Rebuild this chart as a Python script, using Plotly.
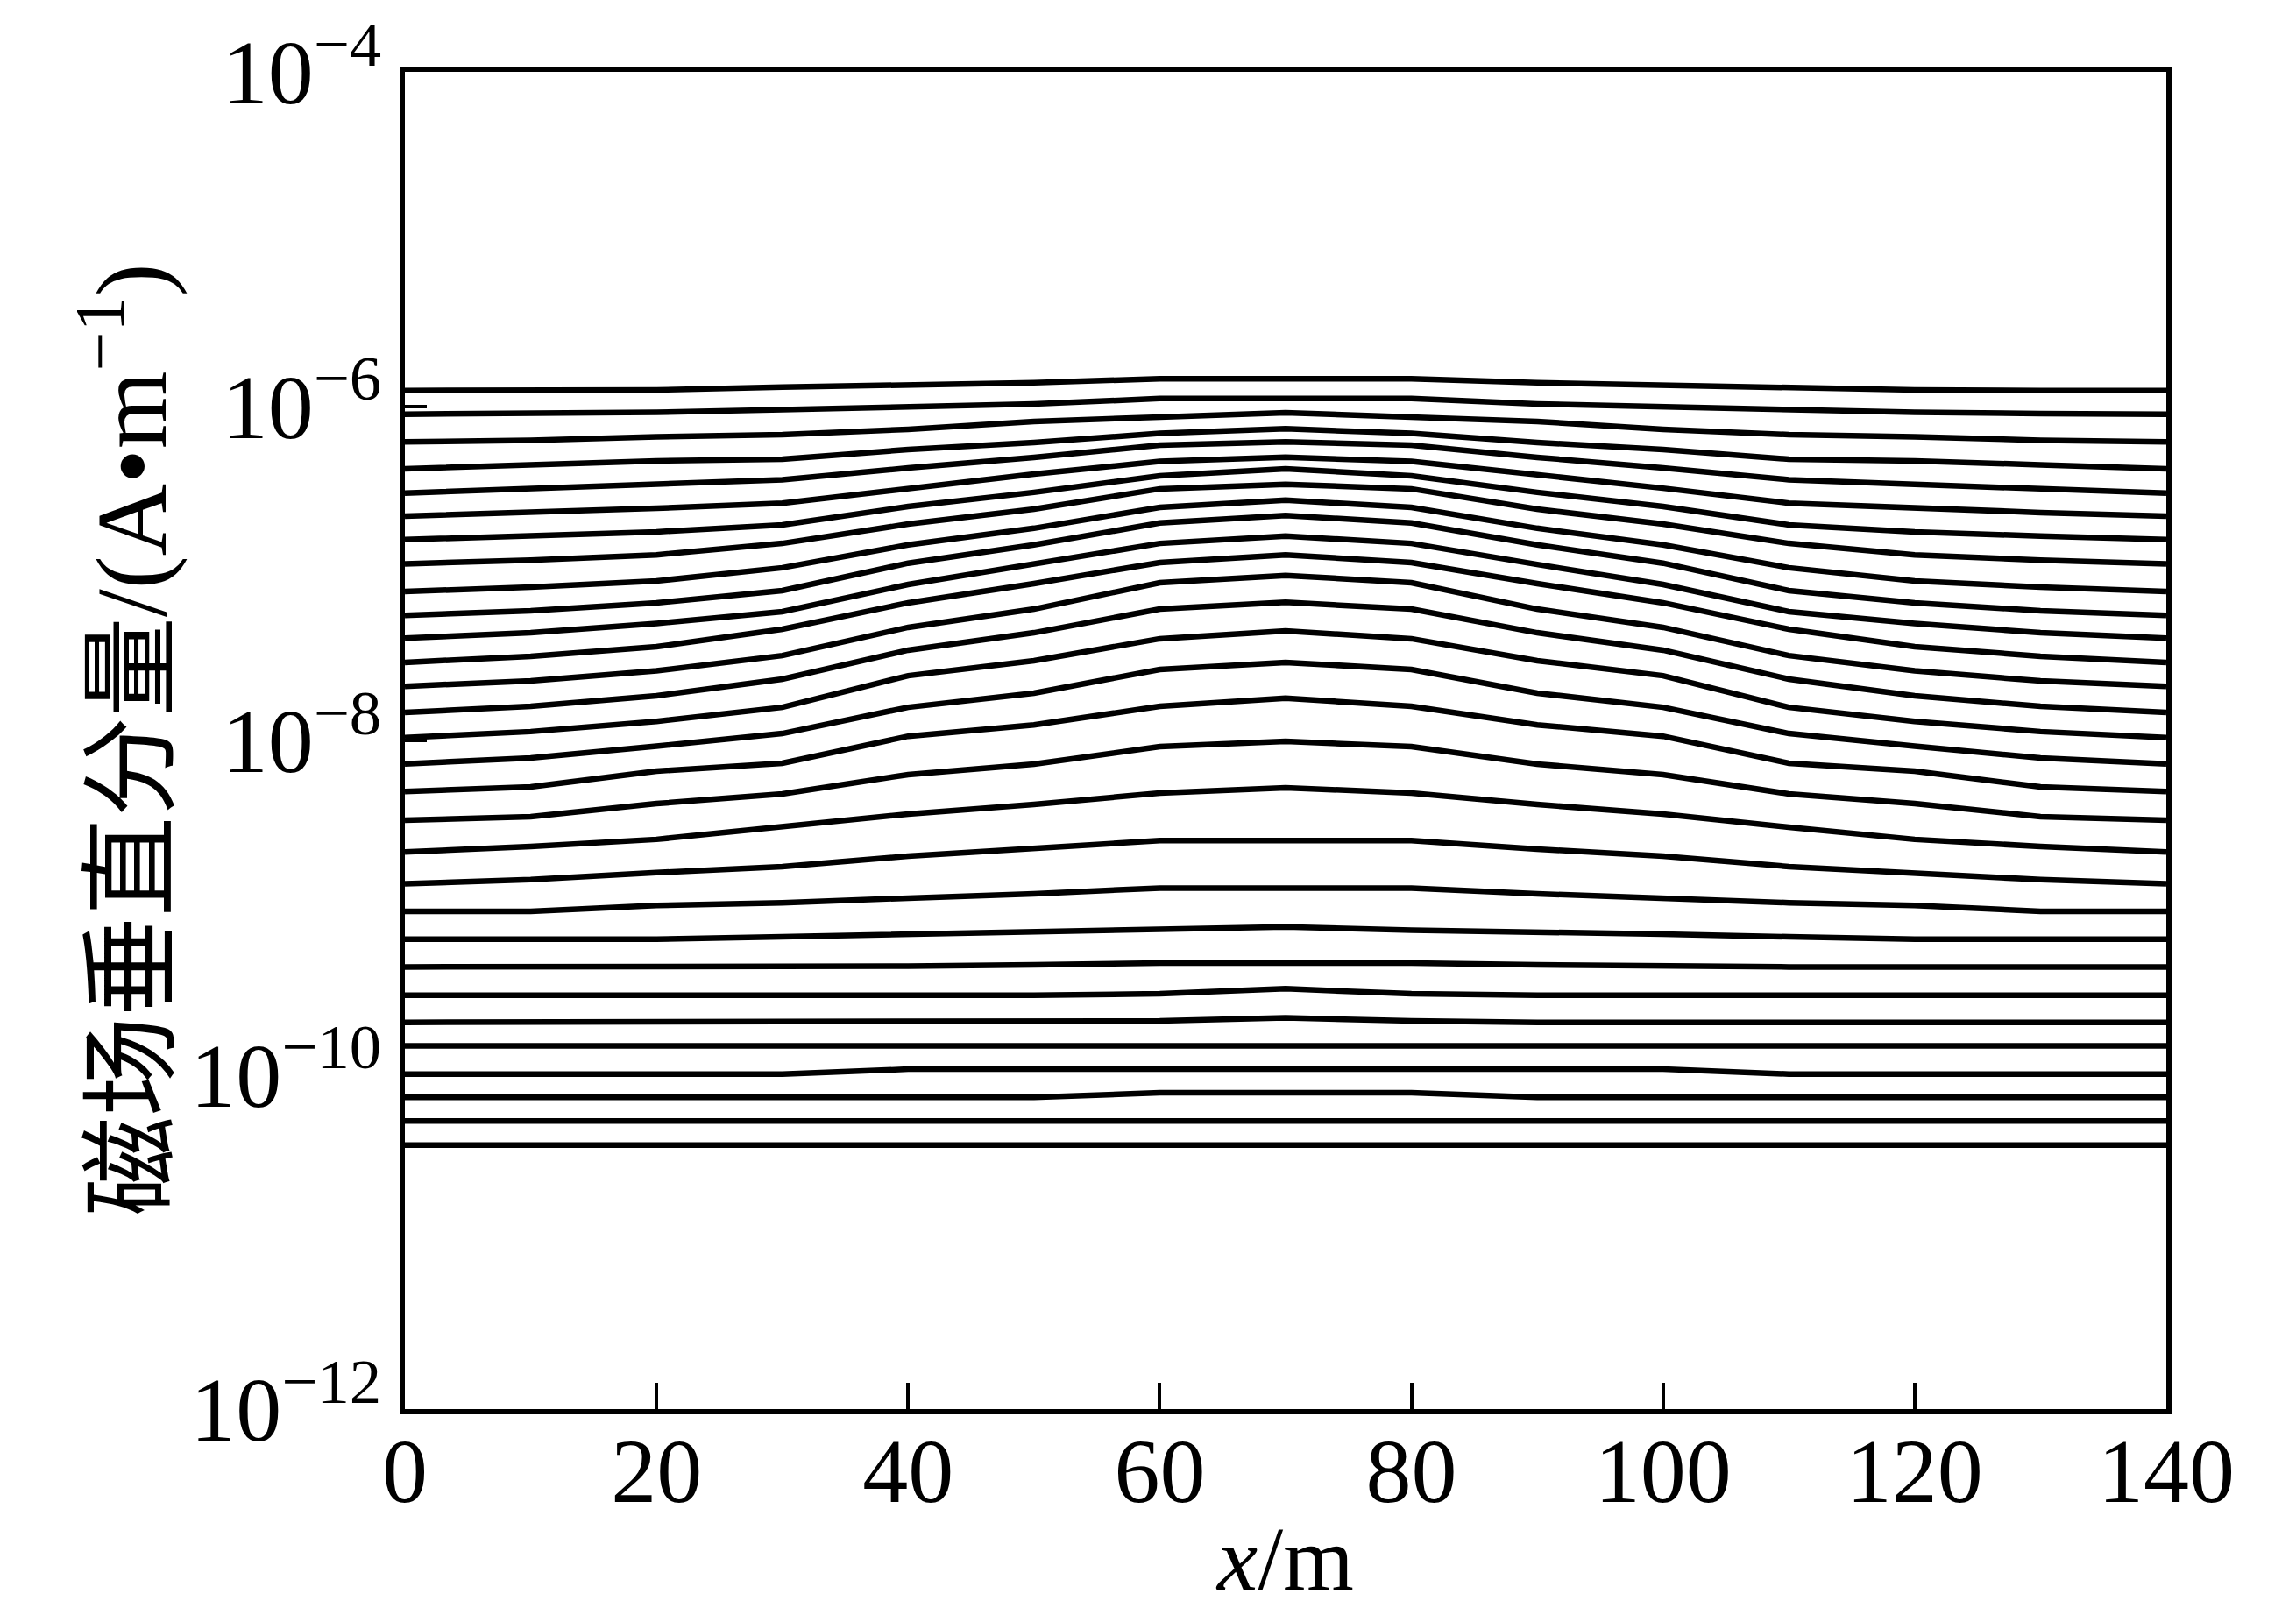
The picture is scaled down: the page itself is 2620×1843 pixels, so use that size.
import plotly.graph_objects as go

# Horizontal position along the profile (m)
x_m = [0, 10, 20, 30, 40, 50, 60, 70, 80, 90, 100, 110, 120, 130, 140]

# Vertical magnetic field component (A/m), one curve per list
hz_01 = [1.24e-6, 1.24e-6, 1.25e-6, 1.30e-6, 1.33e-6, 1.38e-6, 1.46e-6, 1.47e-6, 1.46e-6, 1.38e-6, 1.33e-6, 1.30e-6, 1.25e-6, 1.24e-6, 1.24e-6]
hz_02 = [8.95e-7, 9.03e-7, 9.19e-7, 9.53e-7, 9.88e-7, 1.03e-6, 1.11e-6, 1.12e-6, 1.11e-6, 1.03e-6, 9.88e-7, 9.53e-7, 9.19e-7, 9.03e-7, 8.95e-7]
hz_03 = [6.11e-7, 6.25e-7, 6.55e-7, 6.76e-7, 7.26e-7, 8.10e-7, 8.60e-7, 9.14e-7, 8.60e-7, 8.10e-7, 7.26e-7, 6.76e-7, 6.55e-7, 6.25e-7, 6.11e-7]
hz_04 = [4.22e-7, 4.46e-7, 4.70e-7, 4.82e-7, 5.50e-7, 6.06e-7, 6.88e-7, 7.32e-7, 6.88e-7, 6.06e-7, 5.50e-7, 4.82e-7, 4.70e-7, 4.46e-7, 4.22e-7]
hz_05 = [3.02e-7, 3.20e-7, 3.40e-7, 3.63e-7, 4.27e-7, 4.94e-7, 5.84e-7, 6.11e-7, 5.84e-7, 4.94e-7, 4.27e-7, 3.63e-7, 3.40e-7, 3.20e-7, 3.02e-7]
hz_06 = [2.20e-7, 2.31e-7, 2.45e-7, 2.63e-7, 3.23e-7, 3.92e-7, 4.67e-7, 4.95e-7, 4.67e-7, 3.92e-7, 3.23e-7, 2.63e-7, 2.45e-7, 2.31e-7, 2.20e-7]
hz_07 = [1.59e-7, 1.67e-7, 1.77e-7, 1.95e-7, 2.51e-7, 3.05e-7, 3.83e-7, 4.22e-7, 3.83e-7, 3.05e-7, 2.51e-7, 1.95e-7, 1.77e-7, 1.67e-7, 1.59e-7]
hz_08 = [1.14e-7, 1.20e-7, 1.29e-7, 1.51e-7, 1.97e-7, 2.42e-7, 3.20e-7, 3.41e-7, 3.20e-7, 2.42e-7, 1.97e-7, 1.51e-7, 1.29e-7, 1.20e-7, 1.14e-7]
hz_09 = [7.78e-8, 8.27e-8, 9.00e-8, 1.08e-7, 1.48e-7, 1.86e-7, 2.48e-7, 2.74e-7, 2.48e-7, 1.86e-7, 1.48e-7, 1.08e-7, 9.00e-8, 8.27e-8, 7.78e-8]
hz_10 = [5.60e-8, 5.97e-8, 6.66e-8, 7.88e-8, 1.15e-7, 1.48e-7, 2.00e-7, 2.22e-7, 2.00e-7, 1.48e-7, 1.15e-7, 7.88e-8, 6.66e-8, 5.97e-8, 5.60e-8]
hz_11 = [4.09e-8, 4.41e-8, 5.01e-8, 5.90e-8, 8.57e-8, 1.13e-7, 1.51e-7, 1.67e-7, 1.51e-7, 1.13e-7, 8.57e-8, 5.90e-8, 5.01e-8, 4.41e-8, 4.09e-8]
hz_12 = [2.93e-8, 3.19e-8, 3.64e-8, 4.63e-8, 6.66e-8, 8.68e-8, 1.16e-7, 1.29e-7, 1.16e-7, 8.68e-8, 6.66e-8, 4.63e-8, 3.64e-8, 3.19e-8, 2.93e-8]
hz_13 = [2.11e-8, 2.27e-8, 2.61e-8, 3.22e-8, 4.75e-8, 6.11e-8, 8.78e-8, 9.71e-8, 8.78e-8, 6.11e-8, 4.75e-8, 3.22e-8, 2.61e-8, 2.27e-8, 2.11e-8]
hz_14 = [1.47e-8, 1.60e-8, 1.85e-8, 2.33e-8, 3.47e-8, 4.41e-8, 6.11e-8, 6.71e-8, 6.11e-8, 4.41e-8, 3.47e-8, 2.33e-8, 1.85e-8, 1.60e-8, 1.47e-8]
hz_15 = [1.04e-8, 1.13e-8, 1.30e-8, 1.58e-8, 2.44e-8, 3.00e-8, 4.06e-8, 4.52e-8, 4.06e-8, 3.00e-8, 2.44e-8, 1.58e-8, 1.30e-8, 1.13e-8, 1.04e-8]
hz_16 = [7.24e-9, 7.86e-9, 9.25e-9, 1.10e-8, 1.58e-8, 1.92e-8, 2.66e-8, 2.93e-8, 2.66e-8, 1.92e-8, 1.58e-8, 1.10e-8, 9.25e-9, 7.86e-9, 7.24e-9]
hz_17 = [4.95e-9, 5.27e-9, 6.55e-9, 7.31e-9, 1.06e-8, 1.24e-8, 1.60e-8, 1.79e-8, 1.60e-8, 1.24e-8, 1.06e-8, 7.31e-9, 6.55e-9, 5.27e-9, 4.95e-9]
hz_18 = [3.33e-9, 3.50e-9, 4.19e-9, 4.79e-9, 6.25e-9, 7.22e-9, 9.19e-9, 9.88e-9, 9.19e-9, 7.22e-9, 6.25e-9, 4.79e-9, 4.19e-9, 3.50e-9, 3.33e-9]
hz_19 = [2.15e-9, 2.32e-9, 2.56e-9, 3.03e-9, 3.63e-9, 4.14e-9, 4.85e-9, 5.21e-9, 4.85e-9, 4.14e-9, 3.63e-9, 3.03e-9, 2.56e-9, 2.32e-9, 2.15e-9]
hz_20 = [1.39e-9, 1.47e-9, 1.62e-9, 1.76e-9, 2.03e-9, 2.24e-9, 2.52e-9, 2.52e-9, 2.52e-9, 2.24e-9, 2.03e-9, 1.76e-9, 1.62e-9, 1.47e-9, 1.39e-9]
hz_21 = [9.50e-10, 9.50e-10, 1.03e-9, 1.07e-9, 1.14e-9, 1.21e-9, 1.31e-9, 1.31e-9, 1.31e-9, 1.21e-9, 1.14e-9, 1.07e-9, 1.03e-9, 9.50e-10, 9.50e-10]
hz_22 = [6.48e-10, 6.48e-10, 6.48e-10, 6.69e-10, 6.94e-10, 7.20e-10, 7.33e-10, 7.67e-10, 7.33e-10, 7.20e-10, 6.94e-10, 6.69e-10, 6.48e-10, 6.48e-10, 6.48e-10]
hz_23 = [4.42e-10, 4.42e-10, 4.42e-10, 4.42e-10, 4.47e-10, 4.55e-10, 4.66e-10, 4.66e-10, 4.66e-10, 4.55e-10, 4.47e-10, 4.42e-10, 4.42e-10, 4.42e-10, 4.42e-10]
hz_24 = [2.99e-10, 2.99e-10, 2.99e-10, 2.99e-10, 2.99e-10, 2.99e-10, 3.05e-10, 3.27e-10, 3.05e-10, 2.99e-10, 2.99e-10, 2.99e-10, 2.99e-10, 2.99e-10, 2.99e-10]
hz_25 = [2.06e-10, 2.06e-10, 2.06e-10, 2.06e-10, 2.06e-10, 2.06e-10, 2.10e-10, 2.19e-10, 2.10e-10, 2.06e-10, 2.06e-10, 2.06e-10, 2.06e-10, 2.06e-10, 2.06e-10]
hz_26 = [1.49e-10, 1.49e-10, 1.49e-10, 1.49e-10, 1.49e-10, 1.49e-10, 1.49e-10, 1.49e-10, 1.49e-10, 1.49e-10, 1.49e-10, 1.49e-10, 1.49e-10, 1.49e-10, 1.49e-10]
hz_27 = [1.01e-10, 1.01e-10, 1.01e-10, 1.01e-10, 1.08e-10, 1.08e-10, 1.08e-10, 1.08e-10, 1.08e-10, 1.08e-10, 1.08e-10, 1.01e-10, 1.01e-10, 1.01e-10, 1.01e-10]
hz_28 = [7.32e-11, 7.32e-11, 7.32e-11, 7.32e-11, 7.32e-11, 7.32e-11, 7.81e-11, 7.81e-11, 7.81e-11, 7.32e-11, 7.32e-11, 7.32e-11, 7.32e-11, 7.32e-11, 7.32e-11]
hz_29 = [5.29e-11, 5.29e-11, 5.29e-11, 5.29e-11, 5.29e-11, 5.29e-11, 5.29e-11, 5.29e-11, 5.29e-11, 5.29e-11, 5.29e-11, 5.29e-11, 5.29e-11, 5.29e-11, 5.29e-11]
hz_30 = [3.80e-11, 3.80e-11, 3.80e-11, 3.80e-11, 3.80e-11, 3.80e-11, 3.80e-11, 3.80e-11, 3.80e-11, 3.80e-11, 3.80e-11, 3.80e-11, 3.80e-11, 3.80e-11, 3.80e-11]

curves = [hz_01, hz_02, hz_03, hz_04, hz_05, hz_06, hz_07, hz_08, hz_09, hz_10,
          hz_11, hz_12, hz_13, hz_14, hz_15, hz_16, hz_17, hz_18, hz_19, hz_20,
          hz_21, hz_22, hz_23, hz_24, hz_25, hz_26, hz_27, hz_28, hz_29, hz_30]

x_tickvals = [0, 20, 40, 60, 80, 100, 120, 140]
y_tickvals = [1e-12, 1e-10, 1e-8, 1e-6, 1e-4]
y_ticktext = ["10<sup>−12</sup>", "10<sup>−10</sup>", "10<sup>−8</sup>", "10<sup>−6</sup>", "10<sup>−4</sup>"]

x_title = "<i>x</i>/m"
y_title = "磁场垂直分量/(A•m<sup>−1</sup>)"

FONT = "Liberation Serif, Times New Roman, Noto Sans CJK SC, serif"

fig = go.Figure()
for c in curves:
    fig.add_trace(go.Scatter(x=x_m, y=c, mode="lines",
                             line=dict(color="black", width=6.5),
                             showlegend=False, hoverinfo="skip"))

# The page body adds an 8 px offset, so the figure is sized to fit the window.
fig.update_layout(
    template="none",
    width=2612, height=1835,
    margin=dict(l=454, r=148, t=74, b=235, autoexpand=False),
    plot_bgcolor="white", paper_bgcolor="white",
    font=dict(family=FONT, size=104, color="black"),
    showlegend=False,
)

fig.update_xaxes(
    range=[0, 140], tickvals=x_tickvals,
    ticks="inside", ticklen=30, tickwidth=4, tickcolor="black",
    showline=True, linewidth=6, linecolor="black", mirror=True,
    showgrid=False, zeroline=False, automargin=False,
    tickfont=dict(family=FONT, size=104, color="black"),
    ticklabelstandoff=-25,
    title=dict(text=x_title, font=dict(family=FONT, size=104, color="black"), standoff=8),
)

fig.update_yaxes(
    type="log", range=[-12, -4],
    tickvals=y_tickvals, ticktext=y_ticktext,
    ticks="inside", ticklen=25, tickwidth=4, tickcolor="black",
    showline=True, linewidth=6, linecolor="black", mirror=True,
    showgrid=False, zeroline=False, automargin=False,
    tickfont=dict(family=FONT, size=104, color="black"),
    ticklabelstandoff=0,
)

fig.add_annotation(
    text=y_title, textangle=-90,
    xref="paper", yref="paper", x=0, y=0.5,
    xanchor="center", yanchor="middle",
    xshift=-320, showarrow=False,
    font=dict(family=FONT, size=114, color="black"),
)

fig.write_html("out.html")
